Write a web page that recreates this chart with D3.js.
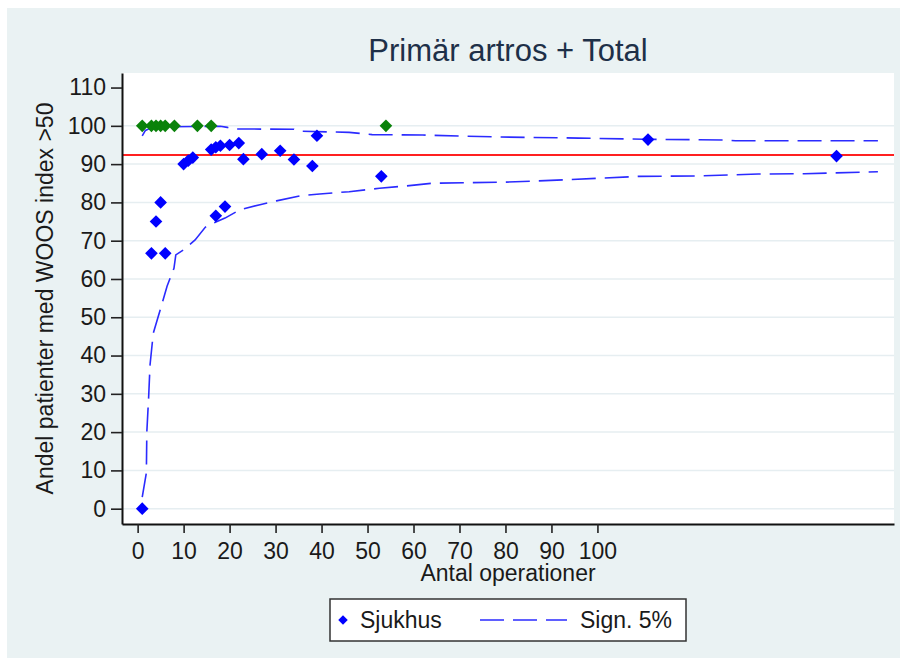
<!DOCTYPE html>
<html>
<head>
<meta charset="utf-8">
<script src="https://cdn.jsdelivr.net/npm/d3@7"></script>
<style>
  body { margin: 0; background: #fff; }
  text { font-family: "Liberation Sans", Arial, sans-serif; }
</style>
</head>
<body>
<svg id="chart"></svg>
<script>
// hospitals: number of operations and share (%) with WOOS index > 50
const hospN   = [1, 3, 4, 5, 6, 10, 11, 12, 16, 17, 17, 18, 19, 20, 22, 23, 27, 31, 34, 38, 39, 53, 111, 152]
const hospPct = [0, 66.7, 75, 80, 66.7, 90, 90.9, 91.7, 93.8, 76.5, 94.4, 94.8, 78.9, 95, 95.5, 91.3, 92.6, 93.5, 91.2, 89.5, 97.4, 86.8, 96.4, 92.1]

// hospitals with 100% (drawn in green)
const fullN   = [1, 3, 4, 5, 6, 8, 13, 16, 54]
const fullPct = [100, 100, 100, 100, 100, 100, 100, 100, 100]

// 5% significance limits
const upperN   = [1, 1.7, 2.8, 3.5, 18, 19.5, 20.5, 34, 35, 46, 51, 62, 78, 96, 110, 128, 130, 161]
const upperPct = [97.4, 98.8, 99.4, 99.7, 99.9, 99.6, 99.2, 99.1, 98.6, 98.3, 97.7, 97.6, 97.1, 96.8, 96.5, 96.3, 96.1, 96.1]
const lowerN   = [1, 1.9, 2.0, 2.4, 2.7, 3.4, 4.9, 6.4, 7.9, 8.3, 10, 12.5, 14.7, 16.9, 19, 22.3, 26.6, 30.2, 35.3, 39.6, 46, 52.6, 58.4, 64, 80, 93, 100, 109, 122, 135, 145, 161]
const lowerPct = [3, 9.4, 20, 29.3, 37.6, 45.8, 51.9, 58.1, 62.8, 66.3, 67.6, 70.2, 73.5, 74.8, 75.9, 78.1, 79.4, 80.4, 81.7, 82.2, 82.8, 83.7, 84.3, 85, 85.3, 85.9, 86.3, 86.8, 86.9, 87.4, 87.5, 88]

// national average
const refPct = 92.4

const xTicks = [0, 10, 20, 30, 40, 50, 60, 70, 80, 90, 100]
const yTicks = [0, 10, 20, 30, 40, 50, 60, 70, 80, 90, 100, 110]
const gridTicks = [0, 10, 20, 30, 40, 50, 60, 70, 80, 90, 100]

var W = 907, H = 665
var margin = {top: 73, right: 13, bottom: 141, left: 122},
    width = W - margin.left - margin.right,
    height = H - margin.top - margin.bottom;

var svg = d3.select("#chart")
  .attr("width", W)
  .attr("height", H)

// outer background
svg.append("rect")
  .attr("x", 7).attr("y", 8)
  .attr("width", 893).attr("height", 650)
  .attr("fill", "#eaf2f3")

var g = svg.append("g")
  .attr("transform", "translate(" + margin.left + "," + margin.top + ")")

g.append("rect")
  .attr("width", width).attr("height", height)
  .attr("fill", "white")

var x = d3.scaleLinear().domain([-3.4, 164.5]).range([0, width])
var y = d3.scaleLinear().domain([-4, 113.8]).range([height, 0])

// grid
g.append("g").selectAll("line")
  .data(gridTicks)
  .enter().append("line")
  .attr("x1", 0).attr("x2", width)
  .attr("y1", d => y(d)).attr("y2", d => y(d))
  .attr("stroke", "#e6eef1")
  .attr("stroke-width", 1.5)

// reference line
g.append("line")
  .attr("x1", 0).attr("x2", width)
  .attr("y1", y(refPct)).attr("y2", y(refPct))
  .attr("stroke", "#ff2020")
  .attr("stroke-width", 2)

// limit lines
var limLine = d3.line()
  .x(d => x(d[0]))
  .y(d => y(d[1]))

;[[upperN, upperPct], [lowerN, lowerPct]].forEach(function(s) {
  g.append("path")
    .datum(s[0].map((n, i) => [n, s[1][i]]))
    .attr("d", limLine)
    .attr("fill", "none")
    .attr("stroke", "#2b2bff")
    .attr("stroke-width", 1.6)
    .attr("stroke-dasharray", "24,9")
})

// diamonds
var diamond = d3.symbol().type(d3.symbolSquare).size(80)

g.append("g").selectAll("path")
  .data(fullN.map((n, i) => [n, fullPct[i]]))
  .enter().append("path")
  .attr("d", diamond)
  .attr("transform", d => "translate(" + x(d[0]) + "," + y(d[1]) + ") rotate(45)")
  .attr("fill", "#0a820a")

g.append("g").selectAll("path")
  .data(hospN.map((n, i) => [n, hospPct[i]]))
  .enter().append("path")
  .attr("d", diamond)
  .attr("transform", d => "translate(" + x(d[0]) + "," + y(d[1]) + ") rotate(45)")
  .attr("fill", "#0000ff")

// axes
var xAxis = g.append("g")
  .attr("transform", "translate(0," + height + ")")
  .call(d3.axisBottom(x).tickValues(xTicks).tickSize(9).tickPadding(10).tickSizeOuter(0))

var yAxis = g.append("g")
  .call(d3.axisLeft(y).tickValues(yTicks).tickSize(11).tickPadding(5).tickSizeOuter(0))

;[xAxis, yAxis].forEach(function(a) {
  a.attr("font-size", 23).attr("font-family", "'Liberation Sans', Arial, sans-serif")
  a.select(".domain").attr("stroke", "#111").attr("stroke-width", 2)
  a.selectAll(".tick line").attr("stroke", "#222").attr("stroke-width", 1.6)
  a.selectAll(".tick text").attr("fill", "#1a1a1a")
})

// axis titles
svg.append("text")
  .attr("x", margin.left + width / 2).attr("y", 581)
  .attr("text-anchor", "middle")
  .attr("font-size", 23)
  .attr("fill", "#1a1a1a")
  .text("Antal operationer")

svg.append("text")
  .attr("transform", "translate(53," + (margin.top + height / 2) + ") rotate(-90)")
  .attr("text-anchor", "middle")
  .attr("font-size", 23)
  .attr("fill", "#1a1a1a")
  .text("Andel patienter med WOOS index >50")

// title
svg.append("text")
  .attr("x", margin.left + width / 2).attr("y", 61)
  .attr("text-anchor", "middle")
  .attr("font-size", 31)
  .attr("fill", "#1e3048")
  .text("Primär artros + Total")

// legend
var leg = svg.append("g")
leg.append("rect")
  .attr("x", 330).attr("y", 599)
  .attr("width", 356).attr("height", 42)
  .attr("fill", "white")
  .attr("stroke", "#333")
  .attr("stroke-width", 1.5)

leg.append("path")
  .attr("d", d3.symbol().type(d3.symbolSquare).size(45))
  .attr("transform", "translate(343,620) rotate(45)")
  .attr("fill", "#0000ff")

leg.append("text")
  .attr("x", 360).attr("y", 628)
  .attr("font-size", 23)
  .attr("fill", "#1a1a1a")
  .text("Sjukhus")

leg.append("line")
  .attr("x1", 480).attr("x2", 567)
  .attr("y1", 620).attr("y2", 620)
  .attr("stroke", "#2b2bff")
  .attr("stroke-width", 1.6)
  .attr("stroke-dasharray", "24,9")

leg.append("text")
  .attr("x", 580).attr("y", 628)
  .attr("font-size", 23)
  .attr("fill", "#1a1a1a")
  .text("Sign. 5%")
</script>
</body>
</html>
